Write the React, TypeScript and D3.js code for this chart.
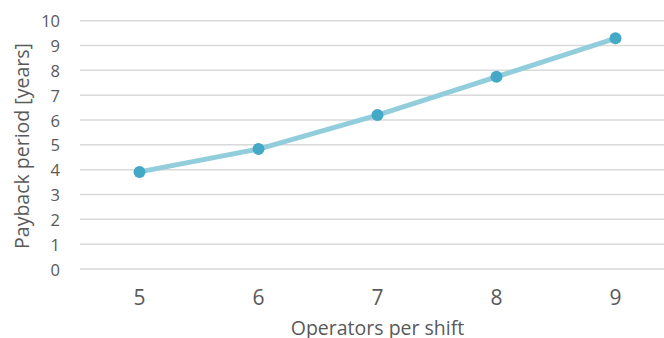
import React from "react";
import * as d3 from "d3";

const operators = ["5", "6", "7", "8", "9"];
const payback = [3.91, 4.83, 6.2, 7.74, 9.29];
const yTicks = [0, 1, 2, 3, 4, 5, 6, 7, 8, 9, 10];

const W = 664;
const H = 338;
const FONT = "'Open Sans', 'Noto Sans', sans-serif";
const TEXT = "#595959";

export default function App() {
  const x = d3.scaleBand<string>().domain(operators).range([80, 675]);
  const y = d3.scaleLinear().domain([0, 10]).range([269, 20.7]);
  const cx = (c: string) => (x(c) ?? 0) + x.bandwidth() / 2;

  const line = d3
    .line<number>()
    .x((_, i) => cx(operators[i]))
    .y((d) => y(d));

  return (
    <svg
      width={W}
      height={H}
      style={{ position: "absolute", left: 0, top: 0, background: "#fff" }}
      fontFamily={FONT}
    >
      {yTicks.map((t) => (
        <g key={t}>
          <line x1={80} x2={W} y1={y(t)} y2={y(t)} stroke="#d9d9d9" strokeWidth={1.5} />
          <text
            x={60}
            y={y(t)}
            textAnchor="end"
            dominantBaseline="central"
            fontSize={16.5}
            fill={TEXT}
          >
            {t}
          </text>
        </g>
      ))}
      {operators.map((c) => (
        <text
          key={c}
          x={cx(c)}
          y={297}
          textAnchor="middle"
          dominantBaseline="central"
          fontSize={21}
          fill={TEXT}
        >
          {c}
        </text>
      ))}
      <path d={line(payback) ?? ""} fill="none" stroke="#92cddc" strokeWidth={5} strokeLinecap="round" />
      {payback.map((v, i) => (
        <circle key={i} cx={cx(operators[i])} cy={y(v)} r={6} fill="#43a9c6" />
      ))}
      <text
        x={cx("7")}
        y={335}
        textAnchor="middle"
        fontSize={19.5}
        fill={TEXT}
      >
        Operators per shift
      </text>
      <text
        transform={`translate(29,146) rotate(-90)`}
        textAnchor="middle"
        fontSize={19.5}
        fill={TEXT}
      >
        Payback period [years]
      </text>
    </svg>
  );
}
